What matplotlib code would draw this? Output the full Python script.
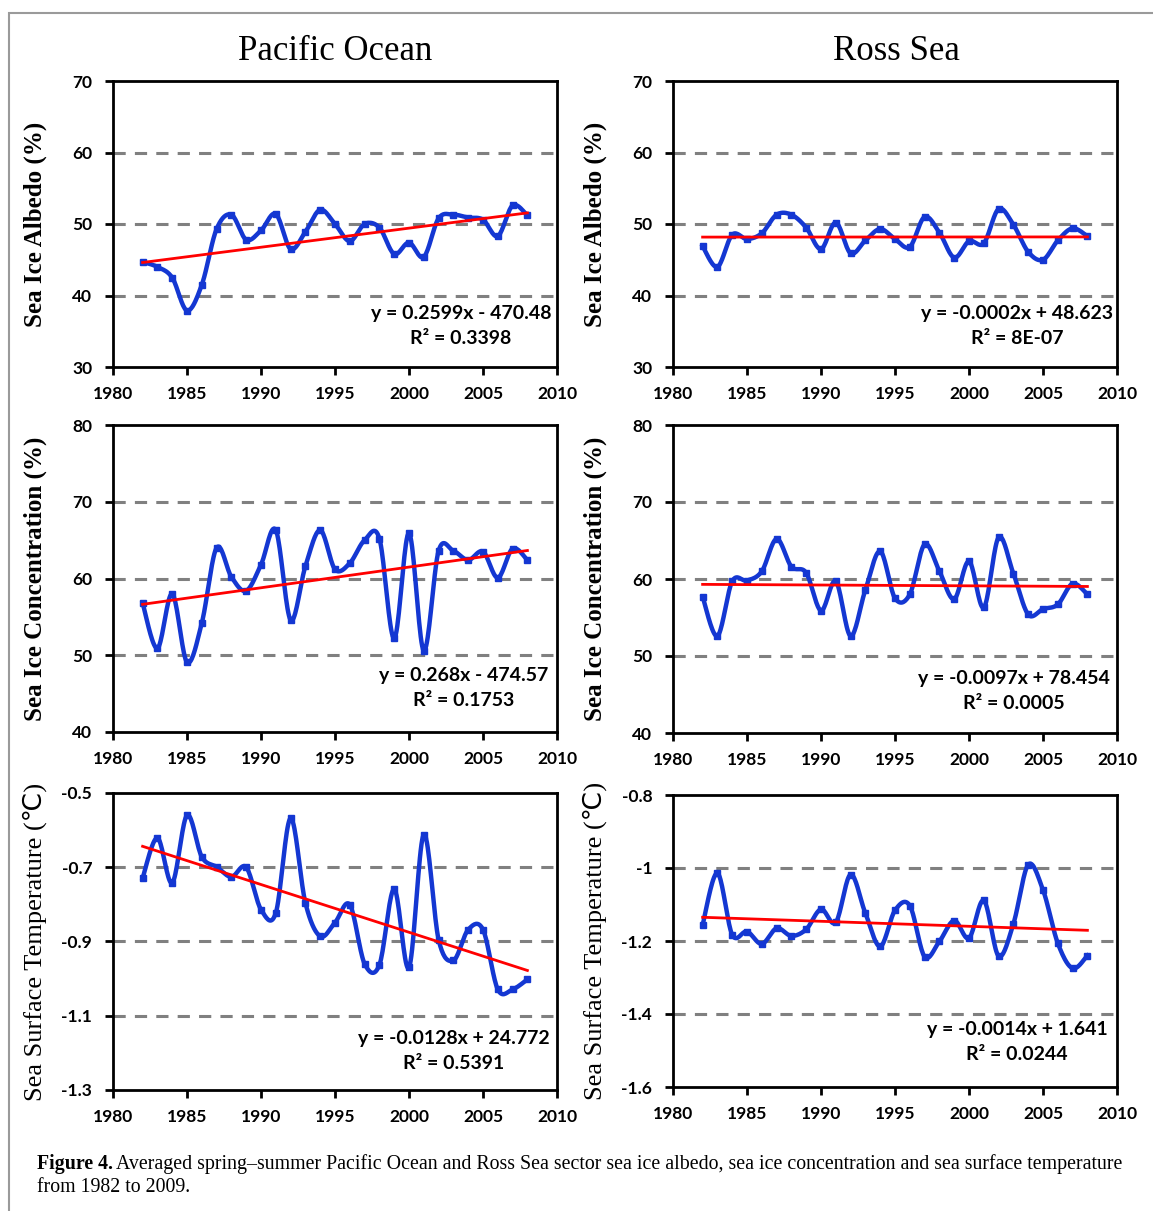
import numpy as np
import matplotlib
matplotlib.use('Agg')
import matplotlib.pyplot as plt
from matplotlib.patches import Rectangle

# data (1982-2008)
years = list(range(1982, 2009))

pac_albedo = [44.7, 44.0, 42.5, 37.9, 41.5, 49.3, 51.3, 47.8, 49.1, 51.4, 46.5, 48.9, 52.0, 50.0,
              47.6, 50.0, 49.5, 45.8, 47.4, 45.4, 50.8, 51.3, 50.9, 50.6, 48.3, 52.6, 51.2]
ross_albedo = [46.9, 44.0, 48.5, 47.9, 48.7, 51.3, 51.3, 49.5, 46.5, 50.2, 45.9, 47.7, 49.3, 47.9,
               46.8, 51.0, 48.8, 45.3, 47.6, 47.3, 52.1, 49.9, 46.1, 45.0, 47.7, 49.4, 48.3]
pac_sic = [56.8, 50.9, 58.0, 49.1, 54.2, 64.0, 60.2, 58.4, 61.8, 66.3, 54.6, 61.6, 66.3, 61.2,
           62.0, 65.0, 65.2, 52.2, 65.9, 50.6, 63.6, 63.6, 62.4, 63.5, 60.1, 63.9, 62.4]
ross_sic = [57.7, 52.6, 59.7, 59.8, 61.0, 65.2, 61.6, 60.8, 55.9, 59.7, 52.6, 58.6, 63.6, 57.5,
            58.0, 64.5, 61.0, 57.4, 62.3, 56.3, 65.4, 60.7, 55.4, 56.1, 56.7, 59.4, 58.0]
pac_sst = [-0.729, -0.621, -0.742, -0.560, -0.672, -0.699, -0.726, -0.700, -0.814, -0.823, -0.568,
           -0.796, -0.886, -0.849, -0.801, -0.960, -0.963, -0.759, -0.970, -0.612, -0.895, -0.951,
           -0.868, -0.868, -1.029, -1.029, -1.002]
ross_sst = [-1.156, -1.014, -1.183, -1.174, -1.208, -1.165, -1.186, -1.168, -1.113, -1.149, -1.018,
            -1.124, -1.215, -1.116, -1.103, -1.243, -1.201, -1.144, -1.192, -1.089, -1.241, -1.153,
            -0.991, -1.060, -1.206, -1.275, -1.240]

equations = ["y = 0.2599x - 470.48\nR² = 0.3398",
             "y = -0.0002x + 48.623\nR² = 8E-07",
             "y = 0.268x - 474.57\nR² = 0.1753",
             "y = -0.0097x + 78.454\nR² = 0.0005",
             "y = -0.0128x + 24.772\nR² = 0.5391",
             "y = -0.0014x + 1.641\nR² = 0.0244"]

ylabels = ["Sea Ice Albedo (%)", "Sea Ice Concentration (%)", "Sea Surface Temperature (\u2103)"]
col_titles = ["Pacific Ocean", "Ross Sea"]

yticks = [[70, 60, 50, 40, 30], [70, 60, 50, 40, 30],
          [80, 70, 60, 50, 40], [80, 70, 60, 50, 40],
          [-0.5, -0.7, -0.9, -1.1, -1.3], [-0.8, -1.0, -1.2, -1.4, -1.6]]
ytick_labels = [["70", "60", "50", "40", "30"], ["70", "60", "50", "40", "30"],
                ["80", "70", "60", "50", "40"], ["80", "70", "60", "50", "40"],
                ["-0.5", "-0.7", "-0.9", "-1.1", "-1.3"], ["-0.8", "-1", "-1.2", "-1.4", "-1.6"]]
series = [pac_albedo, ross_albedo, pac_sic, ross_sic, pac_sst, ross_sst]
xticks = [1980, 1985, 1990, 1995, 2000, 2005, 2010]


def smooth(x, y, n=20):
    # excel-like smoothed line (catmull-rom bezier)
    x = np.asarray(x, float)
    y = np.asarray(y, float)
    pts = np.column_stack([x, y])
    out = []
    for i in range(len(pts) - 1):
        p0 = pts[max(i - 1, 0)]
        p1 = pts[i]
        p2 = pts[i + 1]
        p3 = pts[min(i + 2, len(pts) - 1)]
        c1 = p1 + (p2 - p0) / 6
        c2 = p2 - (p3 - p1) / 6
        t = np.linspace(0, 1, n)[:, None]
        seg = (1 - t) ** 3 * p1 + 3 * (1 - t) ** 2 * t * c1 + 3 * (1 - t) * t ** 2 * c2 + t ** 3 * p2
        out.append(seg if i == 0 else seg[1:])
    out = np.vstack(out)
    return out[:, 0], out[:, 1]


W, H = 1153, 1211
fig = plt.figure(figsize=(W / 100, H / 100), dpi=100)

# axes boxes in pixels: left, top, right, bottom
boxes = [(113, 81, 557, 367), (673, 81, 1117, 367),
         (113, 425, 557, 732), (673, 425, 1117, 733),
         (113, 793, 557, 1090), (673, 795, 1117, 1087)]

tick_font = dict(family='Lato', weight='bold', size=12.5)

for i, (l, t, r, b) in enumerate(boxes):
    ax = fig.add_axes([l / W, 1 - b / H, (r - l) / W, (b - t) / H])
    yt = yticks[i]
    ax.set_xlim(1980, 2010)
    ax.set_ylim(min(yt), max(yt))
    for g in yt[1:-1]:
        ax.axhline(g, color='#808080', lw=2.2, ls=(0, (4, 3)), zorder=1)
    xs, ys = smooth(years, series[i])
    ax.plot(xs, ys, color='#1437d2', lw=3.2, zorder=3)
    ax.plot(years, series[i], ls='none', marker='s', ms=4.5, color='#1437d2', zorder=3)
    k, c = np.polyfit(years, series[i], 1)
    ax.plot([years[0], years[-1]], [k * years[0] + c, k * years[-1] + c], color='#ff0000', lw=2, zorder=4)

    ax.set_xticks(xticks)
    ax.set_xticklabels([str(v) for v in xticks], fontdict=tick_font)
    ax.set_yticks(yt)
    ax.set_yticklabels(ytick_labels[i], fontdict=tick_font)
    ax.tick_params(axis='both', direction='out', length=6, width=2, color='black')
    ax.tick_params(axis='x', pad=8)
    ax.tick_params(axis='y', pad=9)
    for s in ax.spines.values():
        s.set_linewidth(2)
        s.set_color('black')

    row = i // 2
    weight = 'normal' if row == 2 else 'bold'
    size = 19 if row == 2 else 18
    ax.set_ylabel(ylabels[row], family=['Liberation Serif', 'DejaVu Sans'], weight=weight, size=size)
    ax.yaxis.set_label_coords(-0.149, 0.5)

# equation labels (pixel centre of the text block)
eq_pos = [(461, 326), (1017, 326), (464, 688), (1014, 691), (454, 1051), (1017, 1042)]
for txt, (px, py) in zip(equations, eq_pos):
    fig.text(px / W, 1 - py / H, txt, ha='center', va='center', multialignment='center',
             family='Lato', weight='bold', size=14, linespacing=1.55)

# column titles
fig.text(335 / W, 1 - 52 / H, col_titles[0], ha='center', va='center', family='Liberation Serif', size=25)
fig.text(896 / W, 1 - 52 / H, col_titles[1], ha='center', va='center', family='Liberation Serif', size=25)

# frame around the figure
fig.add_artist(Rectangle((9 / W, -0.05), 1.2, 1 - 13 / H + 0.05, transform=fig.transFigure,
                         fill=False, edgecolor='#9a9a9a', lw=1.5))

# caption
cap1 = fig.text(37 / W, 1 - 1164 / H, "Figure 4.", ha='left', va='center',
                family='Liberation Serif', weight='bold', size=14.3)
fig.canvas.draw()
bb = cap1.get_window_extent()
fig.text((bb.x1 + 3) / W, 1 - 1164 / H,
         "Averaged spring\u2013summer Pacific Ocean and Ross Sea sector sea ice albedo, sea ice concentration and sea surface temperature",
         ha='left', va='center', family='Liberation Serif', size=14.3)
fig.text(37 / W, 1 - 1188 / H, "from 1982 to 2009.", ha='left', va='center',
         family='Liberation Serif', size=14.3)

fig.savefig('out.png', dpi=100)
